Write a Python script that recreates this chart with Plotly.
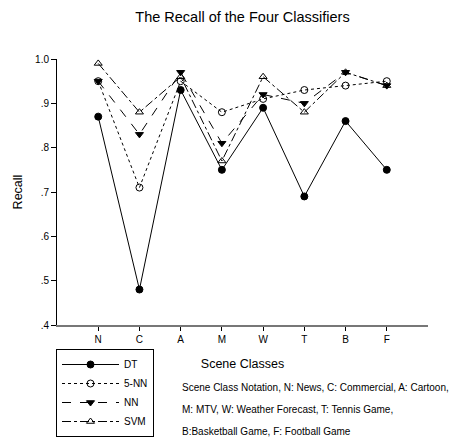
import plotly.graph_objects as go

categories = ["N", "C", "A", "M", "W", "T", "B", "F"]
dt = [0.87, 0.48, 0.93, 0.75, 0.89, 0.69, 0.86, 0.75]
knn5 = [0.95, 0.71, 0.95, 0.88, 0.91, 0.93, 0.94, 0.95]
nn = [0.95, 0.83, 0.97, 0.81, 0.92, 0.90, 0.97, 0.94]
svm = [0.99, 0.88, 0.96, 0.77, 0.96, 0.88, 0.97, 0.94]
ytick_vals = [0.4, 0.5, 0.6, 0.7, 0.8, 0.9, 1.0]
ytick_text = [".4", ".5", ".6", ".7", ".8", ".9", "1.0"]

xpos = list(range(1, len(categories) + 1))
FONT = "Liberation Sans, Arial, sans-serif"

# page body has an 8px margin; figure is sized/offset to compensate
W, H = 451, 431
L, T, R, B = 49, 51, 31, 114
PW, PH = W - L - R, H - T - B

fig = go.Figure()
series = [
    ("DT", dt, "solid", "circle", "black"),
    ("5-NN", knn5, "dot", "circle-open", "black"),
    ("NN", nn, "dash", "triangle-down", "black"),
    ("SVM", svm, "dashdot", "triangle-up-open", "black"),
]
for name, vals, dash, sym, col in series:
    fig.add_trace(go.Scatter(
        x=xpos, y=vals, name=name, mode="lines+markers",
        line=dict(color="black", width=1, dash=dash),
        marker=dict(symbol=sym, size=7, color=col, line=dict(color="black", width=1)),
        cliponaxis=False,
    ))

fig.update_layout(
    width=W, height=H,
    margin=dict(l=L, r=R, t=T, b=B, autoexpand=False),
    paper_bgcolor="white", plot_bgcolor="white",
    font=dict(family=FONT, color="black", size=10),
    title=dict(text="The Recall of the Four Classifiers", x=234.5 / W, xanchor="center",
               y=1 - 8.5 / H, yanchor="middle", font=dict(size=14.5)),
    showlegend=True,
    legend=dict(x=-1 / PW, xanchor="left", y=-(341 - (T + PH)) / PH, yanchor="top",
                bordercolor="black", borderwidth=1, bgcolor="white",
                font=dict(size=10), itemwidth=57, tracegroupgap=0),
)
fig.update_xaxes(
    range=[0, 9], tickvals=xpos, ticktext=categories,
    showline=True, linecolor="#777", linewidth=2, showgrid=False, zeroline=False,
    ticks="outside", ticklen=4, tickcolor="black", tickfont=dict(size=10),
    title=dict(text="Scene Classes", font=dict(size=12.5), standoff=15),
)
fig.update_yaxes(
    range=[0.4, 1.0], tickvals=ytick_vals, ticktext=ytick_text,
    showline=True, linecolor="black", linewidth=1, showgrid=False, zeroline=False,
    ticks="outside", ticklen=5, tickcolor="black", tickfont=dict(size=10),
    title=dict(text="Recall", font=dict(size=12.5), standoff=9),
)

notes = [
    "Scene Class Notation, N: News, C: Commercial, A: Cartoon,",
    "M: MTV, W: Weather Forecast, T: Tennis Game,",
    "B:Basketball Game, F: Football Game",
]
for i, t in enumerate(notes):
    fig.add_annotation(text=t, xref="paper", yref="paper", x=(172 - L) / PW,
                       y=-(379 + 22 * i - (T + PH)) / PH, xanchor="left", yanchor="middle",
                       showarrow=False, font=dict(size=10))

fig.write_html("out.html")
